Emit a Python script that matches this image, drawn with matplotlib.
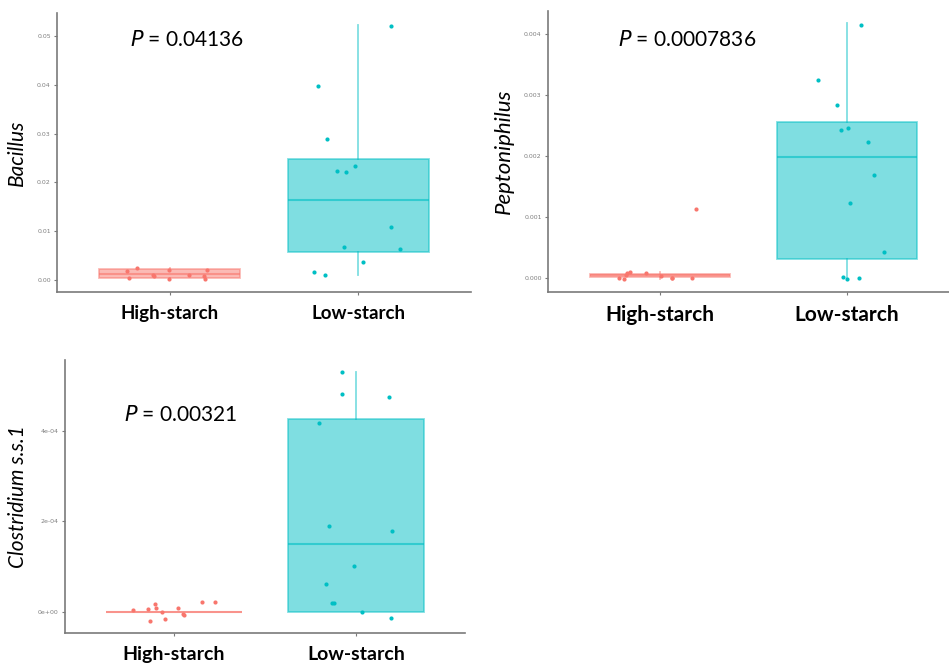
import matplotlib
matplotlib.use("Agg")
import matplotlib.pyplot as plt
from matplotlib.ticker import FixedLocator

plt.rcParams['font.family'] = ['Lato', 'DejaVu Sans']

groups = ['High-starch', 'Low-starch']
red = '#F8766D'
teal = '#00BFC4'

# Bacillus
bac_high = [0.0019, 0.0024, 0.0003, 0.0010, 0.0008, 0.0021, 0.0002, 0.0010, 0.0008, 0.0002, 0.0021]
bac_high_jit = [-0.227, -0.174, -0.218, -0.089, -0.082, -0.005, -0.005, 0.099, 0.179, 0.184, 0.195]
bac_low = [0.0522, 0.0398, 0.0289, 0.0224, 0.0221, 0.0234, 0.0108, 0.0068, 0.0063, 0.0037, 0.0016, 0.0010]
bac_low_jit = [0.176, -0.213, -0.165, -0.112, -0.064, -0.016, 0.176, -0.074, 0.223, 0.027, -0.234, -0.176]
bac_box = [(0.0002, 0.00035, 0.0012, 0.0022, 0.0024), (0.0010, 0.0057, 0.0164, 0.0248, 0.0523)]

# Peptoniphilus
pep_high = [-0.000007, -0.000016, 0.000049, 0.000082, 0.000098, 0.000082, 0.000026, 0.000005, -0.000007, -0.000007, 0.001125]
pep_high_jit = [-0.219, -0.193, -0.182, -0.176, -0.160, -0.075, 0.005, 0.064, 0.064, 0.171, 0.193]
pep_low = [0.00415, 0.00325, 0.00284, 0.00243, 0.00246, 0.00223, 0.00169, 0.00123, 0.00043, 0.00002, -0.00001, 0.0]
pep_low_jit = [0.075, -0.155, -0.053, -0.032, 0.005, 0.112, 0.144, 0.016, 0.198, -0.021, 0.0, 0.064]
pep_box = [(-0.000016, 0.000016, 0.000043, 0.00007, 0.000098), (0.0, 0.000316, 0.00198, 0.00256, 0.00418)]

# Clostridium s.s.1
clo_high = [0.044e-4, 0.079e-4, 0.183e-4, 0.095e-4, -0.192e-4, 0.007e-4, -0.141e-4, 0.095e-4, -0.031e-4, -0.06e-4, 0.227e-4, 0.227e-4]
clo_high_jit = [-0.225, -0.143, -0.104, -0.099, -0.132, -0.066, -0.049, 0.022, 0.049, 0.055, 0.154, 0.225]
clo_low = [5.29e-4, 4.81e-4, 4.74e-4, 4.16e-4, 1.89e-4, 1.79e-4, 1.01e-4, 0.61e-4, 0.21e-4, 0.21e-4, 0.0, -0.12e-4]
clo_low_jit = [-0.077, -0.077, 0.181, -0.203, -0.148, 0.198, -0.011, -0.165, -0.132, -0.121, 0.033, 0.192]
clo_box = [(0.0, 0.0, 0.0, 0.0, 0.0), (0.0, 0.0, 1.5e-4, 4.26e-4, 5.29e-4)]

W, H = 949, 671
fig = plt.figure(figsize=(W / 100, H / 100), dpi=100)


def make_ax(left, right, top, bottom):
    return fig.add_axes([left / W, 1 - bottom / H, (right - left) / W, (bottom - top) / H])


def panel(ax, high, high_jit, low, low_jit, box, ylab, yticks, ylabels, ylim, ptxt, pxy,
          ysize=13, pxsize=15, xsize=13):
    stats = []
    for i, (lo, q1, med, q3, hi) in enumerate(box):
        stats.append(dict(whislo=lo, q1=q1, med=med, q3=q3, whishi=hi, label=groups[i]))
    cols = [red, teal]
    for i, st in enumerate(stats):
        c = cols[i]
        ax.bxp([st], positions=[i + 1], widths=0.75, showfliers=False, showcaps=False,
               patch_artist=True,
               boxprops=dict(facecolor=matplotlib.colors.to_rgba(c, 0.5),
                             edgecolor=matplotlib.colors.to_rgba(c, 0.5), linewidth=1.3),
               medianprops=dict(color=matplotlib.colors.to_rgba(c, 0.6), linewidth=1.5),
               whiskerprops=dict(color=matplotlib.colors.to_rgba(c, 0.5), linewidth=1.3))
    ax.scatter([1 + j for j in high_jit], high, s=9, color=red, zorder=5, linewidths=0)
    ax.scatter([2 + j for j in low_jit], low, s=9, color=teal, zorder=5, linewidths=0)
    ax.set_xlim(0.4, 2.6)
    ax.set_ylim(*ylim)
    ax.set_xticks([1, 2])
    ax.set_xticklabels(groups, fontsize=xsize, fontweight='bold')
    ax.yaxis.set_major_locator(FixedLocator(yticks))
    ax.set_yticklabels(ylabels, fontsize=4.5, color='#7f7f7f', family='DejaVu Sans')
    ax.set_ylabel(ylab, fontsize=ysize, style='italic', labelpad=7)
    for s in ['top', 'right']:
        ax.spines[s].set_visible(False)
    for s in ['left', 'bottom']:
        ax.spines[s].set_color('#7a7a7a')
        ax.spines[s].set_linewidth(1.2)
    ax.tick_params(axis='both', length=2.5, width=0.8, color='#7a7a7a')
    ax.tick_params(axis='x', pad=7)
    ax.tick_params(axis='y', pad=2)
    ax.text(pxy[0], pxy[1], r'$\mathit{P}$' + ' = ' + ptxt, fontsize=pxsize, ha='left', va='center')


ax1 = make_ax(57, 471, 13, 292)
panel(ax1, bac_high, bac_high_jit, bac_low, bac_low_jit, bac_box, 'Bacillus',
      [0, 0.01, 0.02, 0.03, 0.04, 0.05], ['0.00', '0.01', '0.02', '0.03', '0.04', '0.05'],
      (-0.0025, 0.0548), '0.04136', (0.79, 0.0492), ysize=15, xsize=13.5)

ax2 = make_ax(548, 959, 11, 292)
panel(ax2, pep_high, pep_high_jit, pep_low, pep_low_jit, pep_box, 'Peptoniphilus',
      [0, 0.001, 0.002, 0.003, 0.004], ['0.000', '0.001', '0.002', '0.003', '0.004'],
      (-0.00023, 0.00438), '0.0007836', (0.775, 0.0039), ysize=16, xsize=15)

ax3 = make_ax(65, 465, 360, 633)
panel(ax3, clo_high, clo_high_jit, clo_low, clo_low_jit, clo_box, 'Clostridium s.s.1',
      [0, 2e-4, 4e-4], ['0e+00', '2e-04', '4e-04'],
      (-0.46e-4, 5.56e-4), '0.00321', (0.725, 4.34e-4), ysize=15, xsize=14)

fig.savefig('out.png', dpi=100)
